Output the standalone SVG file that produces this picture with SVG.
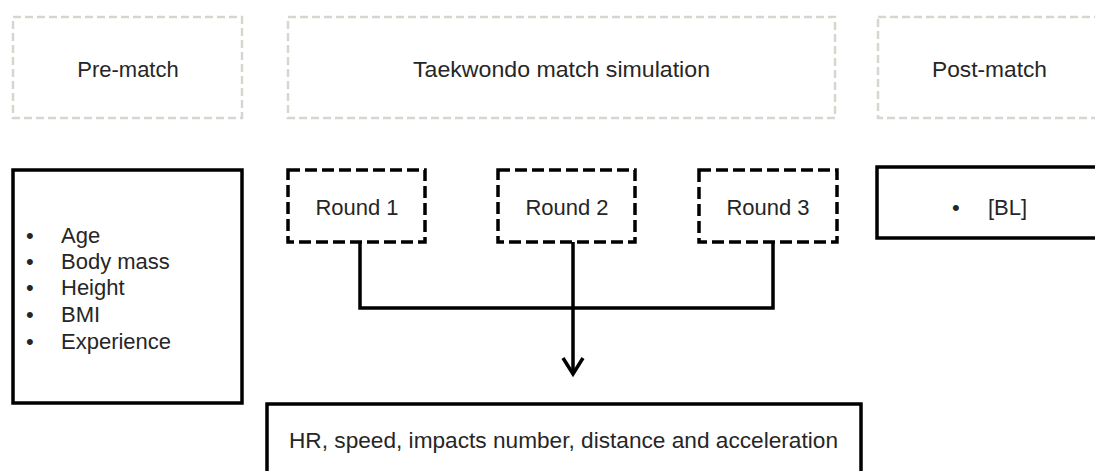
<svg xmlns="http://www.w3.org/2000/svg" width="1095" height="471" viewBox="0 0 1095 471">
<style>
  text { font-family: "Liberation Sans", Arial, sans-serif; font-size: 22px; fill: #262626; }
  .phase { fill: none; stroke: #d6d6cf; stroke-width: 2.5; stroke-dasharray: 8 4; }
  .round { fill: #fff; stroke: #000; stroke-width: 3.5; stroke-dasharray: 12 5; }
  .solid { fill: #fff; stroke: #000; stroke-width: 3.5; }
  .conn { fill: none; stroke: #000; stroke-width: 3.5; stroke-linejoin: miter; }
  .mid { text-anchor: middle; }
</style>
<rect width="1095" height="471" fill="#fff"/>

<g id="pre-match">
  <rect class="phase" x="13" y="17" width="229" height="101"/>
  <text class="mid" x="128" y="77">Pre-match</text>
</g>
<g id="simulation">
  <rect class="phase" x="288" y="17" width="547" height="101"/>
  <text x="413" y="77" textLength="297" lengthAdjust="spacingAndGlyphs">Taekwondo match simulation</text>
</g>
<g id="post-match">
  <rect class="phase" x="878" y="17" width="240" height="101"/>
  <text x="932" y="77" textLength="115" lengthAdjust="spacingAndGlyphs">Post-match</text>
</g>

<g id="characteristics">
  <rect class="solid" x="13" y="170" width="229" height="233"/>
  <text x="26" y="243">•</text><text x="61" y="243">Age</text>
  <text x="26" y="269">•</text><text x="61" y="269">Body mass</text>
  <text x="26" y="295">•</text><text x="61" y="295">Height</text>
  <text x="26" y="322">•</text><text x="61" y="322">BMI</text>
  <text x="26" y="349">•</text><text x="61" y="349">Experience</text>
</g>

<g id="round1">
  <rect class="round" x="288" y="170" width="137" height="72"/>
  <text class="mid" x="357" y="215">Round 1</text>
</g>
<g id="round2">
  <rect class="round" x="498" y="170" width="137" height="72"/>
  <text class="mid" x="567" y="215">Round 2</text>
</g>
<g id="round3">
  <rect class="round" x="699" y="170" width="138" height="72"/>
  <text class="mid" x="768" y="215">Round 3</text>
</g>

<g id="bl">
  <rect class="solid" x="877" y="167" width="240" height="71"/>
  <text x="952" y="215">•</text><text x="988" y="215">[BL]</text>
</g>

<g id="outcomes">
  <rect class="solid" x="267" y="404" width="594" height="90"/>
  <text x="289" y="448" textLength="549" lengthAdjust="spacingAndGlyphs">HR, speed, impacts number, distance and acceleration</text>
</g>

<g id="connectors">
  <path class="conn" d="M360 242 V308 H773 V242"/>
  <path class="conn" d="M573 242 V373"/>
  <path class="conn" d="M563 358 L573 374 L583 358"/>
</g>
</svg>
